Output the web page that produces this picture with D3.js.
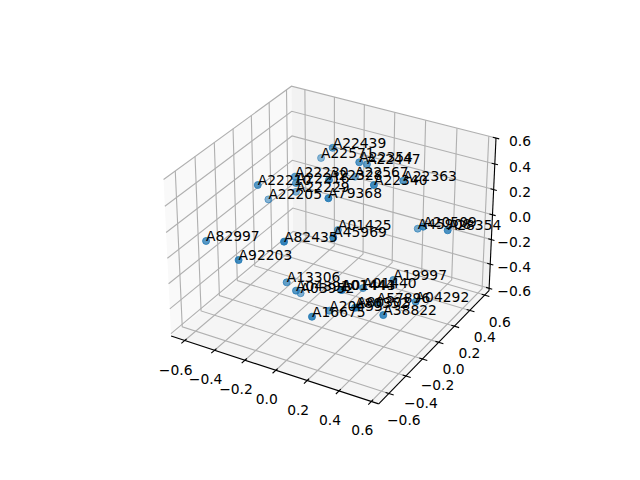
<!DOCTYPE html><html><head><meta charset="utf-8"><style>html,body{margin:0;background:#fff}svg{display:block}text{font-family:"DejaVu Sans";font-size:13.89px;fill:#000}</style></head><body><svg id="c" width="640" height="480"></svg><script src="https://cdn.jsdelivr.net/npm/d3@7"></script><script>
const labels=["A22439","A22571","A22354","A22447","A22230","A22210","A22205","A22216","A22229","A22328","A22567","A22340","A22363","A79368","A01425","A45969","A82435","A82997","A92203","A20509","A45908","A28354","A19997","A13306","A04391","A03952","A01444","A01443","A01440","A57896","A04292","A38822","A16675","A20453","A80352","A80303"];
const xs=[-.151,-.284,.023,.039,-.294,-.437,-.470,-.280,-.344,-.074,-.050,.173,.262,-.012,-.034,.065,-.154,-.609,-.372,.445,.332,.568,.330,-.186,-.104,-.162,.113,.118,.194,.304,.491,.398,.073,.061,.252,.262];
const ys=[.194,.294,.190,.252,.013,-.158,.008,0,.108,.015,.275,.087,.271,-.102,.047,-.184,-.351,-.446,-.483,.169,.327,.230,.039,-.275,-.311,-.161,-.180,-.177,-.069,-.110,.005,-.207,-.439,-.223,-.270,-.263];
const zs=[.5207,.3458,.4668,.4231,.3499,.3326,.1161,.3123,.1618,.3946,.2848,.3977,.3580,.3408,.0002,.1130,.1018,.0032,-.0395,.1212,-.0263,.1,-.2621,-.2764,-.2896,-.4268,-.2855,-.2855,-.3099,-.3628,-.3547,-.3608,-.3486,-.4441,-.3180,-.3160];
const ticks=[-.6,-.4,-.2,0,.2,.4,.6];
const xlim=[-.692,.645],ylim=[-.716,.658],zlim=[-.62,.6];

const box=[1.1905,1.1905,.8929];
const sx=d3.scaleLinear().domain(xlim).range([-box[0]/2,box[0]/2]);
const sy=d3.scaleLinear().domain(ylim).range([-box[1]/2,box[1]/2]);
const sz=d3.scaleLinear().domain(zlim).range([-box[2]/2,box[2]/2]);
const U=[.8660254,.5,0],V=[-.25,.4330127,.8660254],W=[.4330127,-.75,.5];
const dot=(a,b)=>a[0]*b[0]+a[1]*b[1]+a[2]*b[2];
const px=d3.scaleLinear().domain([-.095,.09]).range([143.2,512.8]);
const py=d3.scaleLinear().domain([-.095,.09]).range([427.2,57.6]);
function proj(x,y,z){const p=[sx(x),sy(y),sz(z)],d=10-dot(W,p);return [px(dot(U,p)/d),py(dot(V,p)/d)];}
function depth(x,y,z){return dot(W,[sx(x),sy(y),sz(z)]);}
const [x0,x1]=xlim,[y0,y1]=ylim,[z0,z1]=zlim;
const svg=d3.select("#c"),line=d3.line();
function poly(pts,o){const s=svg.append("path").attr("d",line(pts.map(p=>proj(...p))));
 s.attr("fill",o.fill||"none").attr("stroke",o.stroke||"none").attr("stroke-width",o.w||0);return s;}
poly([[x0,y0,z0],[x0,y1,z0],[x0,y1,z1],[x0,y0,z1]],{fill:"#f9f9f9"});
poly([[x0,y1,z0],[x1,y1,z0],[x1,y1,z1],[x0,y1,z1]],{fill:"#f2f2f2"});
poly([[x0,y0,z0],[x1,y0,z0],[x1,y1,z0],[x0,y1,z0]],{fill:"#f5f5f5"});
const G={stroke:"#b0b0b0",w:1.11};
ticks.forEach(t=>{
 poly([[t,y0,z0],[t,y1,z0],[t,y1,z1]],G);
 poly([[x1,t,z0],[x0,t,z0],[x0,t,z1]],G);
 poly([[x0,y0,t],[x0,y1,t],[x1,y1,t]],G);
});
const A={stroke:"#000",w:1.11};
poly([[x0,y0,z0],[x1,y0,z0]],A);poly([[x1,y0,z0],[x1,y1,z0]],A);poly([[x1,y1,z0],[x1,y1,z1]],A);
const tf=d3.format(".1f"),lab=t=>tf(t).replace("-","\u2212");
ticks.forEach(t=>{
 poly([[t,y0-.035,z0],[t,y0+.02,z0]],A);
 poly([[x1+.03,t,z0],[x1-.02,t,z0]],A);
 poly([[x1+.02,y1,t],[x1-.02,y1,t]],A);
 let p=proj(t,y0,z0);
 svg.append("text").attr("x",p[0]-9).attr("y",p[1]+29).attr("text-anchor","middle").attr("dominant-baseline","central").text(lab(t));
 p=proj(x1,t,z0);
 svg.append("text").attr("x",p[0]+15).attr("y",p[1]+26.5).attr("text-anchor","middle").attr("dominant-baseline","central").text(lab(t));
 p=proj(x1,y1,t);
 svg.append("text").attr("x",531).attr("y",p[1]+2.5).attr("text-anchor","end").attr("dominant-baseline","central").text(lab(t));
});
const idx=d3.range(labels.length).sort((a,b)=>depth(xs[a],ys[a],zs[a])-depth(xs[b],ys[b],zs[b]));
const alpha=d3.scaleLinear().domain(d3.extent(idx,i=>depth(xs[i],ys[i],zs[i]))).range([.5,.9]);
svg.append("g").selectAll("circle").data(idx).join("circle")
 .attr("cx",i=>proj(xs[i],ys[i],zs[i])[0]).attr("cy",i=>proj(xs[i],ys[i],zs[i])[1])
 .attr("r",3.5).attr("fill","#1f77b4").attr("stroke","#1f77b4").attr("stroke-width",1)
 .attr("fill-opacity",i=>alpha(depth(xs[i],ys[i],zs[i]))).attr("stroke-opacity",i=>alpha(depth(xs[i],ys[i],zs[i])));
svg.append("g").selectAll("text").data(d3.range(labels.length)).join("text")
 .attr("x",i=>proj(xs[i],ys[i],zs[i])[0]).attr("y",i=>proj(xs[i],ys[i],zs[i])[1]).text(i=>labels[i]);
</script></body></html>
